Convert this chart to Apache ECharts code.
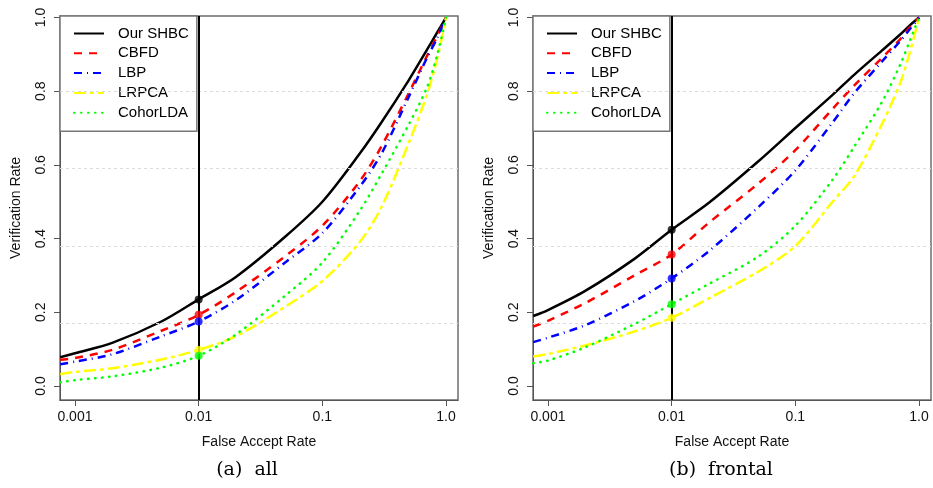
<!DOCTYPE html>
<html>
<head>
<meta charset="utf-8">
<script src="https://cdn.jsdelivr.net/npm/echarts@6/dist/echarts.min.js"></script>
<style>
  html, body { margin: 0; padding: 0; background: #fff; }
  #chart { width: 933px; height: 488px; }
</style>
</head>
<body>
<div id="chart"></div>
<script>
// false accept rate sample points (shared by every curve)
const far = [0.00076, 0.001, 0.002, 0.005, 0.01, 0.02, 0.05, 0.1, 0.2, 0.3, 0.5, 0.7, 0.85, 1.0];

// (a) all
const allShbc = [0.078, 0.089, 0.117, 0.175, 0.235, 0.296, 0.405, 0.50, 0.63, 0.715, 0.83, 0.912, 0.96, 1.0];
const allCbfd = [0.071, 0.076, 0.098, 0.150, 0.193, 0.255, 0.352, 0.435, 0.555, 0.65, 0.795, 0.895, 0.95, 1.0];
const allLbp = [0.059, 0.066, 0.086, 0.135, 0.175, 0.233, 0.335, 0.415, 0.54, 0.63, 0.785, 0.89, 0.945, 1.0];
const allLrpca = [0.032, 0.038, 0.048, 0.072, 0.098, 0.135, 0.215, 0.285, 0.39, 0.485, 0.66, 0.79, 0.89, 1.0];
const allCohor = [0.010, 0.016, 0.026, 0.050, 0.082, 0.14, 0.245, 0.335, 0.475, 0.575, 0.71, 0.81, 0.90, 1.0];

// (b) frontal
const frShbc = [0.190, 0.206, 0.258, 0.345, 0.424, 0.497, 0.609, 0.70, 0.79, 0.845, 0.91, 0.953, 0.98, 1.0];
const frCbfd = [0.161, 0.177, 0.225, 0.30, 0.357, 0.443, 0.549, 0.64, 0.752, 0.816, 0.89, 0.94, 0.975, 1.0];
const frLbp = [0.119, 0.131, 0.165, 0.23, 0.292, 0.366, 0.485, 0.585, 0.715, 0.795, 0.88, 0.935, 0.97, 1.0];
const frLrpca = [0.080, 0.087, 0.110, 0.148, 0.185, 0.238, 0.31, 0.38, 0.50, 0.57, 0.71, 0.82, 0.91, 1.0];
const frCohor = [0.062, 0.069, 0.105, 0.168, 0.222, 0.277, 0.351, 0.435, 0.56, 0.65, 0.77, 0.87, 0.94, 1.0];

const methods = ['Our SHBC', 'CBFD', 'LBP', 'LRPCA', 'CohorLDA'];
const xTicks = [0.001, 0.01, 0.1, 1.0];
const xTickLabels = ['0.001', '0.01', '0.1', '1.0'];
const yTicks = [0, 0.2, 0.4, 0.6, 0.8, 1.0];
const gridLevels = [0.798, 0.589, 0.380, 0.171];
const markFar = 0.01;
const captions = ['(a)  all', '(b)  frontal'];

const font = 'Liberation Sans';
const colors = ['#000000', '#ff0000', '#0000ff', '#ffff00', '#00ff00'];
const dashes = ['solid', [8, 7], [8, 5, 1, 5], [12, 4, 4, 4], [0.5, 6.5]];

let myChart = echarts.init(document.getElementById('chart'));

const panels = [
  { left: 60, values: [allShbc, allCbfd, allLbp, allLrpca, allCohor], caption: captions[0], capX: 247 },
  { left: 533, values: [frShbc, frCbfd, frLbp, frLrpca, frCohor], caption: captions[1], capX: 721 },
];
const markIdx = far.indexOf(markFar);

const grids = [], xAxes = [], yAxes = [], series = [], legends = [], graphics = [];

panels.forEach((p, k) => {
  grids.push({
    left: p.left, width: 398, top: 16, height: 384,
    show: true, borderColor: '#6e6e6e', borderWidth: 1.5, backgroundColor: 'transparent',
  });
  xAxes.push({
    type: 'log', logBase: 10, gridIndex: k,
    min: 0.000757, max: 1.249,
    name: 'False Accept Rate', nameLocation: 'middle', nameGap: 35,
    nameTextStyle: { fontFamily: font, fontSize: 14, color: '#111' },
    axisLine: { show: true, onZero: false, lineStyle: { color: '#555', width: 1 } },
    axisTick: { show: true, length: 6, customValues: xTicks, lineStyle: { color: '#555' } },
    axisLabel: {
      customValues: xTicks, margin: 10, fontFamily: font, fontSize: 14, color: '#111',
      formatter: v => xTickLabels[xTicks.findIndex(t => Math.abs(Math.log10(t) - Math.log10(v)) < 1e-6)] || '',
    },
    splitLine: { show: false },
    minorTick: { show: false },
  });
  yAxes.push({
    type: 'value', gridIndex: k, min: -0.038, max: 1.004,
    name: 'Verification Rate', nameLocation: 'middle', nameGap: 37, nameRotate: 90,
    nameTextStyle: { fontFamily: font, fontSize: 14, color: '#111' },
    axisLine: { show: true, lineStyle: { color: '#555', width: 1 } },
    axisTick: { show: true, length: 6, customValues: yTicks, lineStyle: { color: '#555' } },
    axisLabel: {
      customValues: yTicks, rotate: 90, margin: 12, fontFamily: font, fontSize: 14, color: '#111',
      formatter: v => v.toFixed(1),
    },
    splitLine: { show: false },
  });

  methods.forEach((name, i) => {
    const vals = p.values[i];
    const s = {
      name: name, type: 'line', xAxisIndex: k, yAxisIndex: k,
      symbol: 'none', showSymbol: false, smooth: 0.3,
      color: colors[i],
      lineStyle: { color: colors[i], width: 2.5, type: dashes[i], cap: i === 4 ? 'round' : 'butt', join: 'round' },
      data: far.map((x, j) => [x, vals[j]]),
      animation: false, silent: true, z: 3 + i,
    };
    if (i === 0) {
      s.markLine = {
        silent: true, symbol: ['none', 'none'], label: { show: false }, animation: false,
        data: gridLevels.map(g => ({ yAxis: g, lineStyle: { color: '#dcdcdc', width: 1, type: [3, 3] } }))
          .concat([{ xAxis: markFar, lineStyle: { color: '#000', width: 2, type: 'solid' } }]),
      };
    }
    series.push(s);
    // filled dot where each curve meets FAR = 0.01
    series.push({
      name: name + ' @0.01', type: 'scatter', xAxisIndex: k, yAxisIndex: k,
      symbol: 'circle', symbolSize: 8, itemStyle: { color: colors[i] },
      data: [[markFar, vals[markIdx]]],
      animation: false, silent: true, z: 10,
    });
  });

  legends.push({
    left: p.left, top: 16, orient: 'vertical',
    data: methods,
    backgroundColor: '#fff', borderColor: '#777', borderWidth: 1.5, borderRadius: 0,
    padding: [10, 8, 11, 13], itemGap: 4.8, itemWidth: 30, itemHeight: 14,
    itemStyle: { opacity: 0 },
    lineStyle: { width: 2 },
    textStyle: { fontFamily: font, fontSize: 15, color: '#000', padding: [0, 0, 0, 9] },
    selectedMode: false,
  });

  graphics.push({
    type: 'text', x: p.capX, y: 461,
    style: { text: p.caption, font: '19px "DejaVu Serif"', fill: '#000', textAlign: 'center' },
  });
});

let option = {
  backgroundColor: '#fff',
  animation: false,
  grid: grids,
  xAxis: xAxes,
  yAxis: yAxes,
  legend: legends,
  series: series,
  graphic: { elements: graphics },
};

myChart.setOption(option);
</script>
</body>
</html>
